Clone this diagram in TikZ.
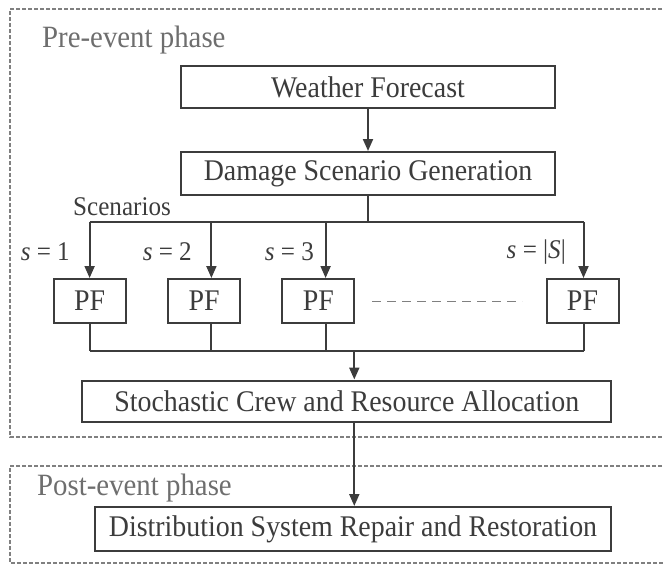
\documentclass[tikz,border=0pt]{standalone}
\usepackage{fontspec}
\setmainfont[FakeStretch=0.93]{Liberation Serif}
\usetikzlibrary{arrows.meta}
\definecolor{ink}{HTML}{3C3C3C}
\definecolor{soft}{HTML}{6E6E6E}
\definecolor{frame}{HTML}{808080}
\tikzset{
  stepbox/.style={draw=ink, line width=2pt, text=ink, inner sep=0pt,
    font=\fontsize{30}{34}\selectfont},
  pfbox/.style={stepbox, minimum width=72pt, minimum height=44pt},
  lbl/.style={text=ink, inner sep=0pt, font=\fontsize{27}{31}\selectfont},
  phaselbl/.style={text=soft, inner sep=0pt, font=\fontsize{31}{35}\selectfont},
  ln/.style={draw=ink, line width=2pt},
  arr/.style={ln, -{Triangle[length=12pt,width=10pt]}},
  phasebox/.style={draw=frame, line width=1.5pt, dash pattern=on 4pt off 2pt},
  gapline/.style={draw=frame, line width=1.5pt, dash pattern=on 9pt off 6pt}
}
\begin{document}
\begin{tikzpicture}[x=1pt,y=-1pt]
\useasboundingbox (0,0) rectangle (663,565);
\clip (0,0) rectangle (663,565);
% phase frames (open on the right)
\draw[phasebox] (680,9) -- (10,9) -- (10,437) -- (680,437);
\draw[phasebox] (680,466) -- (10,466) -- (10,563) -- (680,563);
\node[phaselbl, anchor=west] (pre) at (42,40) {Pre-event phase};
\node[phaselbl, anchor=west] (post) at (37,488) {Post-event phase};
% main boxes
\node[stepbox, minimum width=374pt, minimum height=42pt] (wf) at (368,87) {Weather Forecast};
\node[stepbox, minimum width=374pt, minimum height=43pt] (dsg) at (368,173.5) {Damage Scenario Generation};
\node[pfbox] (pf1) at (89.6,301) {PF};
\node[pfbox] (pf2) at (204.2,301) {PF};
\node[pfbox] (pf3) at (318.4,301) {PF};
\node[pfbox] (pf4) at (582.5,301) {PF};
\node[stepbox, minimum width=529pt, minimum height=41pt] (scra) at (346.8,401) {Stochastic Crew and Resource Allocation};
\node[stepbox, minimum width=516pt, minimum height=44pt] (dsr) at (353,529) {Distribution System Repair and Restoration};
% labels
\node[lbl, anchor=west] (scen) at (73,207) {Scenarios};
\node[lbl, anchor=east] (s1) at (70,252) {\textit{s} = 1};
\node[lbl, anchor=east] (s2) at (192,252) {\textit{s} = 2};
\node[lbl, anchor=east] (s3) at (314,252) {\textit{s} = 3};
\node[lbl, anchor=east] (s4) at (566,252) {\textit{s} = |\textit{S}|};
% bus coordinates
\coordinate (top) at (368,222);
\coordinate (b1) at (89.6,222);
\coordinate (b2) at (211.4,222);
\coordinate (b3) at (325.6,222);
\coordinate (b4) at (583.5,222);
\coordinate (c1) at (89.6,351);
\coordinate (c2) at (211.4,351);
\coordinate (c3) at (325.6,351);
\coordinate (c4) at (583.5,351);
\coordinate (m) at (354.3,351);
\coordinate (g1) at (372,301.7);
\coordinate (g2) at (522,301.7);
% connectors
\draw[arr] (wf) -- (dsg);
\draw[ln] (dsg.south) -- (top);
\draw[ln] (b1) -- (b4);
\draw[arr] (b1) -- (b1 |- pf1.north);
\draw[arr] (b2) -- (b2 |- pf2.north);
\draw[arr] (b3) -- (b3 |- pf3.north);
\draw[arr] (b4) -- (b4 |- pf4.north);
\draw[ln] (c1 |- pf1.south) -- (c1);
\draw[ln] (c2 |- pf2.south) -- (c2);
\draw[ln] (c3 |- pf3.south) -- (c3);
\draw[ln] (c4 |- pf4.south) -- (c4);
\draw[ln] (c1) -- (c4);
\draw[arr] (m) -- (m |- scra.north);
\draw[arr] (m |- scra.south) -- (m |- dsr.north);
\draw[gapline] (g1) -- (g2);
\end{tikzpicture}
\end{document}
